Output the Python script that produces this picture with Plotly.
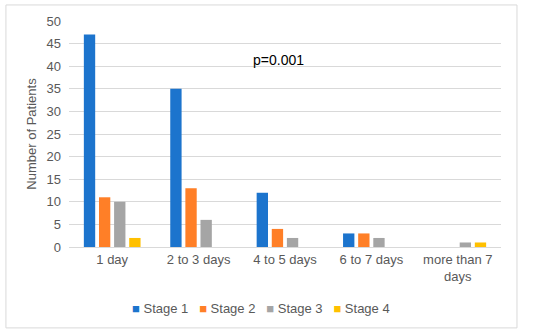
import plotly.graph_objects as go

categories = ["1 day", "2 to 3 days", "4 to 5 days", "6 to 7 days", "more than 7<br>days"]
stage1 = [47, 35, 12, 3, 0]
stage2 = [11, 13, 4, 3, 0]
stage3 = [10, 6, 2, 2, 1]
stage4 = [2, 0, 0, 0, 1]
series_names = ["Stage 1", "Stage 2", "Stage 3", "Stage 4"]
colors = ["#1C74CD", "#FF7F27", "#A5A5A5", "#FFC000"]

fig = go.Figure()
for name, vals, c in zip(series_names, [stage1, stage2, stage3, stage4], colors):
    fig.add_trace(go.Bar(x=categories, y=vals, name=name, marker=dict(color=c, line=dict(width=0))))

fig.update_layout(
    width=550, height=336,
    margin=dict(l=69, r=49, t=21, b=89),
    paper_bgcolor="white", plot_bgcolor="white",
    barmode="group", bargap=0.3, bargroupgap=0.25,
    font=dict(family="Liberation Sans, Arial", color="#595959", size=13),
    showlegend=False,
    xaxis=dict(showgrid=False, showline=True, linecolor="#D9D9D9", linewidth=1, automargin=False,
               ticks="", tickfont=dict(size=13, color="#595959")),
    yaxis=dict(range=[0, 50], dtick=5, showgrid=True, gridcolor="#D9D9D9", gridwidth=1,
               zeroline=False, showline=False, ticks="", ticklen=0, automargin=False,
               ticklabelstandoff=7,
               tickfont=dict(size=13, color="#595959"),
               title=dict(text="Number of Patients", font=dict(size=13, color="#595959"), standoff=6)),
)

legend_text = "   ".join(
    f'<span style="color:{c}">■</span> {n}' for n, c in zip(series_names, colors)
)
fig.add_annotation(x=0.445, y=-0.27, xref="paper", yref="paper", text=legend_text,
                   showarrow=False, xanchor="center", yanchor="middle",
                   font=dict(size=13, color="#595959"))

fig.add_annotation(x=1.92, y=41.4, xref="x", yref="y", text="p=0.001", showarrow=False,
                   font=dict(size=14, color="black"))
fig.add_shape(type="rect", xref="paper", yref="paper", x0=-0.146, x1=1.037, y0=-0.358, y1=1.071,
              line=dict(color="#D9D9D9", width=1))
fig.write_html("out.html", config={"displayModeBar": False},
               post_script="document.body.style.margin='0';")
